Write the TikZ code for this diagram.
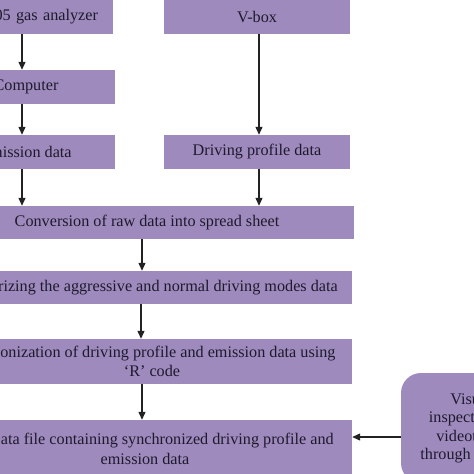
\documentclass[tikz,border=0pt]{standalone}
\usepackage{fontspec}
\setmainfont{Liberation Serif}
\usetikzlibrary{arrows.meta,calc}
\definecolor{boxfill}{RGB}{158,138,188}
\definecolor{txt}{RGB}{30,26,46}
\definecolor{arrc}{RGB}{34,34,34}
\begin{document}
\begin{tikzpicture}[x=1pt,y=-1pt,
  box/.style={rectangle,fill=boxfill,text=txt,inner sep=0pt,align=center,
    font=\fontsize{16.2}{19.5}\selectfont},
  arr/.style={draw=arrc,line width=1.2pt,-{Triangle[length=8pt,width=7pt]}}]
\useasboundingbox (0,0) rectangle (474,474);
\clip (0,0) rectangle (474,474);
\fill[white] (0,0) rectangle (474,474);
\node[box,minimum width=176pt,minimum height=34pt,text width=146pt,inner xsep=15pt,align=right] (gas) at (25,17) {05 gas analyzer};
\node[box,minimum width=178pt,minimum height=34pt] (comp) at (26,87) {Computer};
\node[box,minimum width=178pt,minimum height=34pt] (emis) at (26,152) {Emission data};
\node[box,minimum width=186pt,minimum height=34pt] (vbox) at (257,17) {V-box};
\node[box,minimum width=186pt,minimum height=34pt] (drive) at (257,152) {Driving profile data};
\node[box,minimum width=414pt,minimum height=33pt] (conv) at (147,222.5) {Conversion of raw data into spread sheet};
\node[box,minimum width=414pt,minimum height=33pt] (cat) at (145,287.5) {Categorizing the aggressive and normal driving modes data};
\node[box,minimum width=414pt,minimum height=45pt] (sync) at (145,361.5) {Synchronization of driving profile and emission data using\\ \hspace*{14pt}`R' code};
\node[box,minimum width=414pt,minimum height=58pt] (file) at (145,449) {\hspace*{33pt}Data file containing synchronized driving profile and\\ emission data};
\node[box,rounded corners=20pt,minimum width=140pt,minimum height=110pt,font=\fontsize{16.2}{18.5}\selectfont] (vis) at (471,428) {Visual\\ inspection of\\ videotapes\\ through camera};
\draw[arr] ([xshift=-4pt]comp.north |- gas.south) -- ([xshift=-4pt]comp.north);
\draw[arr] ([xshift=-4pt]comp.south) -- ([xshift=-4pt]emis.north);
\draw[arr] ([xshift=-4pt]emis.south) -- ([xshift=-4pt]emis.south |- conv.north);
\draw[arr] ([xshift=2pt]vbox.south) -- ([xshift=2pt]drive.north);
\draw[arr] ([xshift=2pt]drive.south) -- ([xshift=2pt]drive.south |- conv.north);
\draw[arr] ([xshift=-5pt]conv.south) -- ([xshift=-3pt]cat.north);
\draw[arr] ([xshift=-4pt]cat.south) -- ([xshift=-4pt]sync.north);
\draw[arr] ([xshift=-3pt]sync.south) -- ([xshift=-3pt]file.north);
\draw[arr] ([yshift=-9pt]vis.west) -- ([yshift=-9pt]vis.west -| file.east);
\end{tikzpicture}
\end{document}
